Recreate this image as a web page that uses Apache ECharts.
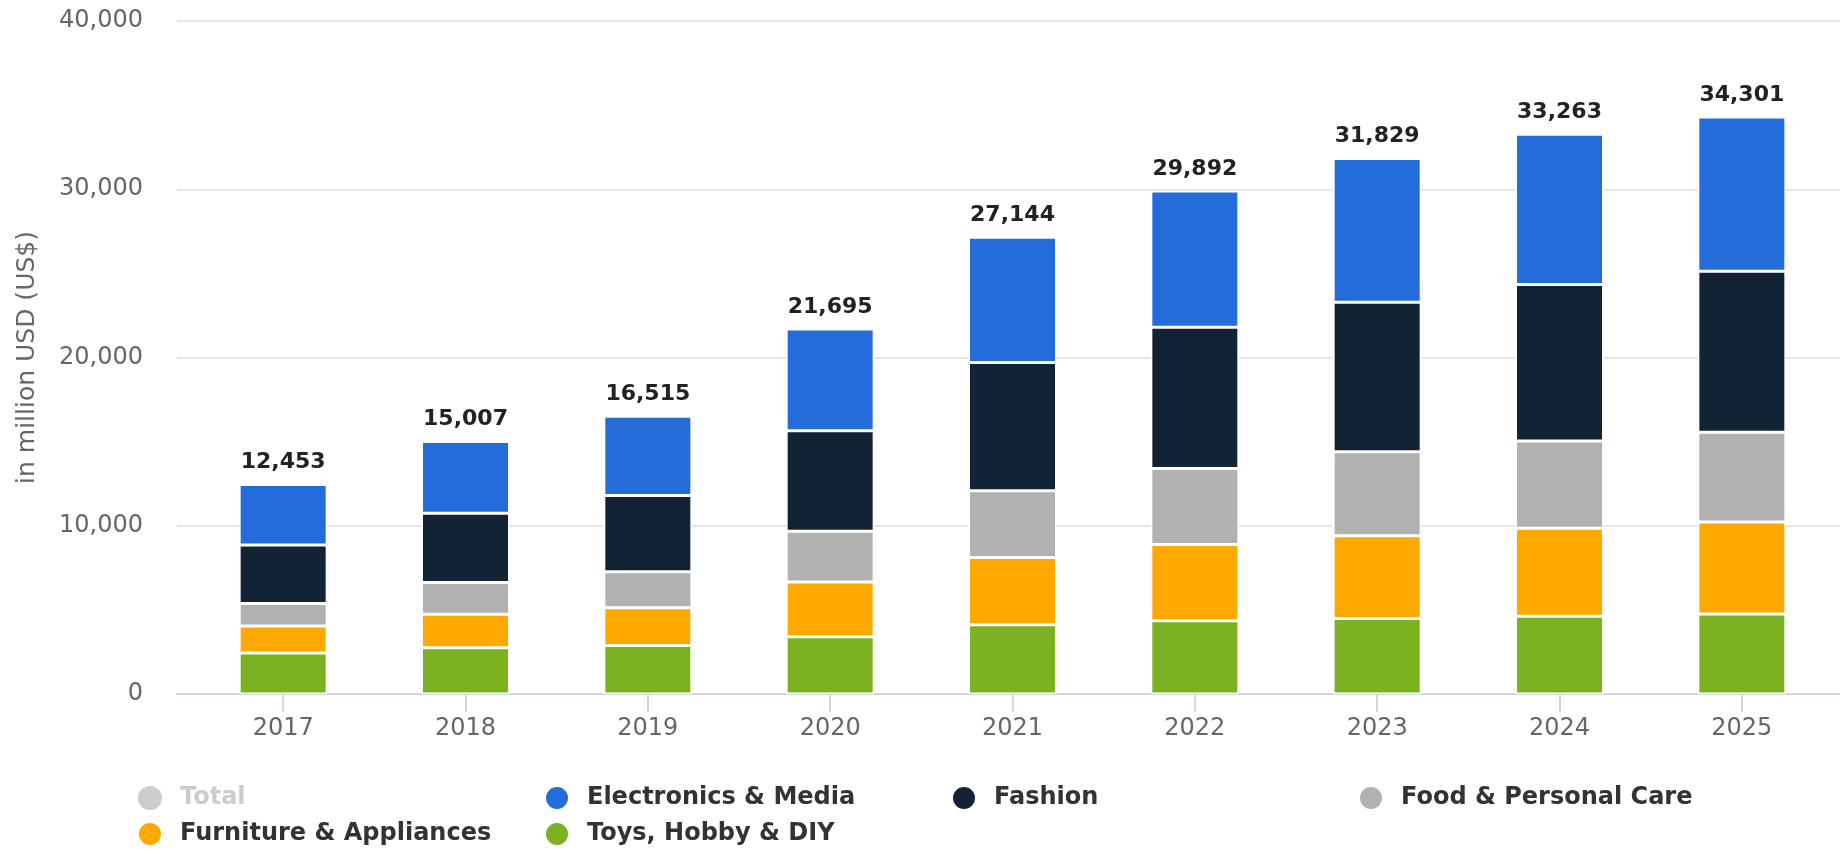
<!DOCTYPE html>
<html>
<head>
<meta charset="utf-8">
<title>Revenue by segment</title>
<script src="https://cdn.jsdelivr.net/npm/echarts@6.0.0/dist/echarts.min.js"></script>
<style>
  html, body { margin: 0; padding: 0; background: #fff; }
  #chart { width: 1840px; height: 849px; }
</style>
</head>
<body>
<div id="chart"></div>
<script>
// values, million USD
const years = ['2017', '2018', '2019', '2020', '2021', '2022', '2023', '2024', '2025'];
const totals = [12453, 15007, 16515, 21695, 27144, 29892, 31829, 33263, 34301];
const toys = [2435, 2750, 2880, 3410, 4110, 4360, 4490, 4620, 4750];
const furniture = [1613, 1990, 2250, 3240, 4000, 4530, 4920, 5230, 5470];
const food = [1334, 1890, 2130, 3020, 3970, 4520, 4990, 5190, 5330];
const fashion = [3472, 4120, 4540, 5980, 7620, 8390, 8880, 9300, 9580];
const electronics = [3599, 4257, 4715, 6045, 7444, 8092, 8549, 8923, 9171];
const yTicks = [0, 10000, 20000, 30000, 40000];

const font = 'DejaVu Sans';
const fmt = v => Number(v).toLocaleString('en-US');
const yMin = yTicks[0];
const yMax = yTicks[yTicks.length - 1];

function stackSeries(name, arr, color) {
  return {
    name: name,
    type: 'bar',
    stack: 'seg',
    barWidth: 88,
    xAxisIndex: 1,
    yAxisIndex: 1,
    data: arr,
    itemStyle: { color: color, borderColor: '#fff', borderWidth: 1.5 }
  };
}

const chart = echarts.init(document.getElementById('chart'));

const electronicsSeries = stackSeries('Electronics & Media', electronics, '#236cda');
electronicsSeries.label = {
  show: true,
  position: 'top',
  distance: 11,
  fontFamily: font,
  fontSize: 22,
  fontWeight: 'bold',
  color: '#222',
  formatter: p => fmt(totals[p.dataIndex])
};

chart.setOption({
  animation: false,
  backgroundColor: '#fff',
  // grid 0 carries the gridlines and baseline (full plot width),
  // grid 1 carries the bars, inset the way the categories are in the original
  grid: [
    { left: 177, right: 0, top: 21, bottom: 155 },
    { left: 192, right: 7, top: 21, bottom: 155 }
  ],
  legend: {
    left: 132,
    top: 780,
    width: 1660,
    itemWidth: 24,
    itemHeight: 24,
    itemGap: 10,
    icon: 'circle',
    inactiveColor: '#ccc',
    selected: { 'Total': false },
    data: ['Total', 'Electronics & Media', 'Fashion', 'Food & Personal Care',
           'Furniture & Appliances', 'Toys, Hobby & DIY'],
    textStyle: {
      fontFamily: font,
      fontSize: 24,
      fontWeight: 'bold',
      color: '#333',
      width: 354,
      lineHeight: 24,
      padding: [0, 0, 0, 13]
    }
  },
  xAxis: [
    {
      gridIndex: 0,
      type: 'value',
      min: 0,
      max: 1,
      splitLine: { show: false },
      axisTick: { show: false },
      axisLabel: { show: false },
      axisLine: { show: true, lineStyle: { color: '#ccd6eb', width: 2 } }
    },
    {
      gridIndex: 1,
      type: 'category',
      data: years,
      axisLine: { show: false },
      axisTick: {
        show: true,
        alignWithLabel: true,
        length: 18,
        lineStyle: { color: '#ccd6eb', width: 2 }
      },
      axisLabel: {
        margin: 23,
        fontFamily: font,
        fontSize: 24,
        color: '#666'
      }
    }
  ],
  yAxis: [
    {
      gridIndex: 0,
      type: 'value',
      min: yMin,
      max: yMax,
      interval: 10000,
      name: 'in million USD (US$)',
      nameLocation: 'middle',
      nameGap: 137,
      nameTextStyle: { fontFamily: font, fontSize: 25, color: '#666' },
      axisLine: { show: false },
      axisTick: { show: false },
      axisLabel: {
        margin: 34,
        fontFamily: font,
        fontSize: 24,
        color: '#666',
        formatter: v => fmt(v)
      },
      splitLine: { lineStyle: { color: '#e6e6e6', width: 2 } }
    },
    {
      gridIndex: 1,
      type: 'value',
      min: yMin,
      max: yMax,
      interval: 10000,
      show: false,
      splitLine: { show: false }
    }
  ],
  series: [
    {
      name: 'Total',
      type: 'bar',
      barWidth: 88,
      xAxisIndex: 1,
      yAxisIndex: 1,
      data: totals,
      itemStyle: { color: '#cccccc' }
    },
    stackSeries('Toys, Hobby & DIY', toys, '#7cb122'),
    stackSeries('Furniture & Appliances', furniture, '#ffa800'),
    stackSeries('Food & Personal Care', food, '#b1b1b1'),
    stackSeries('Fashion', fashion, '#122335'),
    electronicsSeries
  ]
});
</script>
</body>
</html>
